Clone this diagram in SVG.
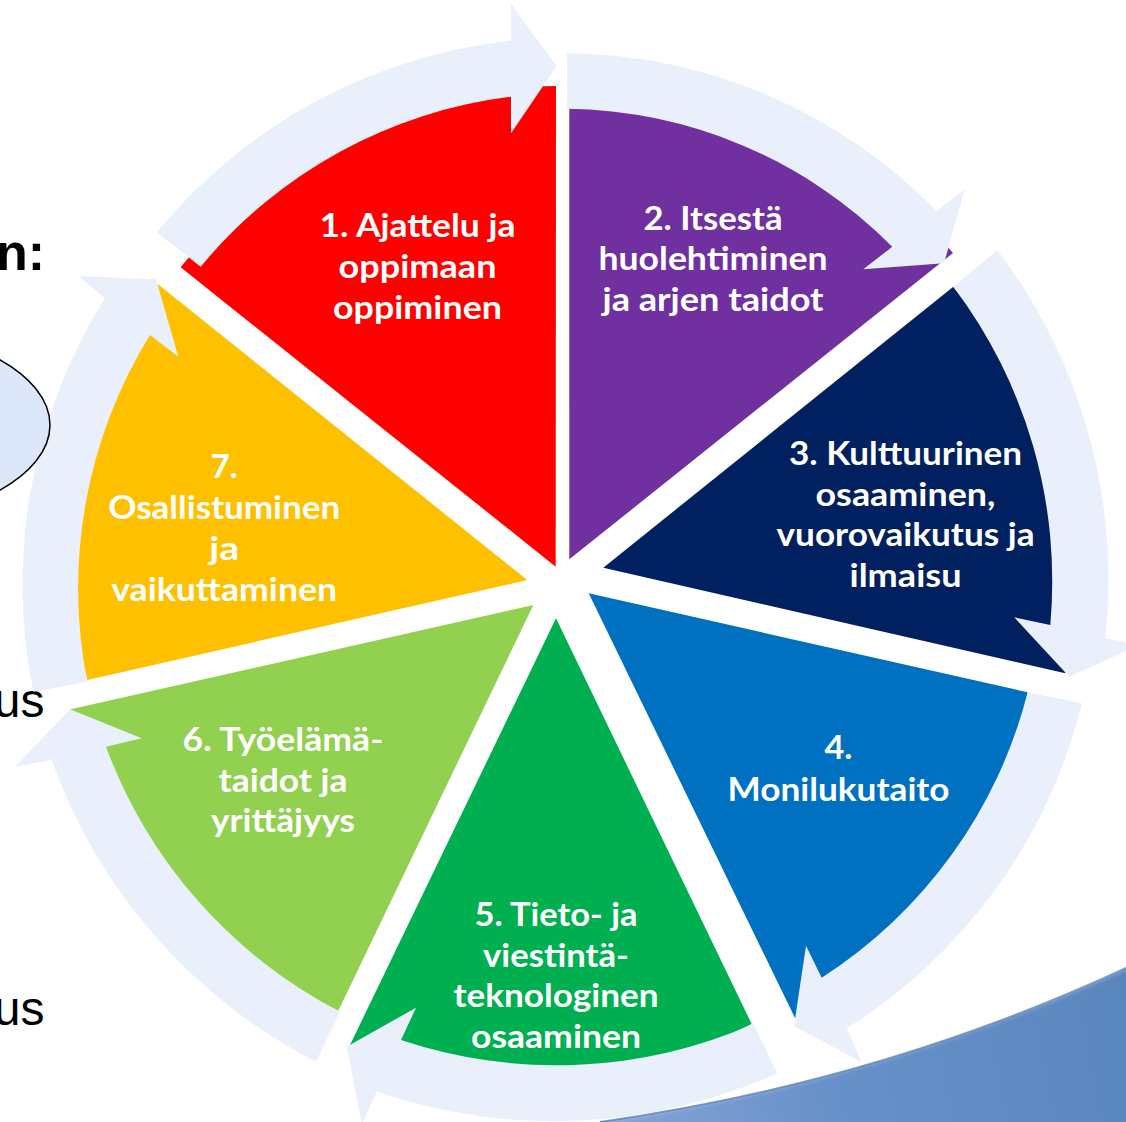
<svg xmlns="http://www.w3.org/2000/svg" width="1126" height="1122" viewBox="0 0 1126 1122">
  <defs>
    <linearGradient id="swooshGrad" x1="600" y1="1100" x2="1126" y2="1000" gradientUnits="userSpaceOnUse">
      <stop offset="0" stop-color="#86A4D6"/>
      <stop offset="0.45" stop-color="#6690C8"/>
      <stop offset="1" stop-color="#5A86BE"/>
    </linearGradient>
    <filter id="glow" x="-10%" y="-50%" width="120%" height="200%">
      <feGaussianBlur stdDeviation="3"/>
    </filter>
  </defs>
  <style>
    .band { fill: #E9F0FC; }
    .lbl { fill: #FFFFFF; font-family: Lato, "Open Sans", "DejaVu Sans", sans-serif; font-weight: 700; font-size: 33px; text-anchor: middle; }
    .side { fill: #000000; font-family: "Liberation Sans", Arial, sans-serif; text-anchor: end; }
  </style>
  <rect x="0" y="0" width="1126" height="1122" fill="#FFFFFF"/>

  <g id="background">
    <path d="M600,1122 Q880,1082 1126,968 L1126,1122 Z" fill="url(#swooshGrad)"/>
    <path d="M600,1122 Q880,1082 1126,968" fill="none" stroke="#4A72B2" stroke-width="2"/>
    <path d="M600,1116 Q880,1076 1126,962" fill="none" stroke="#FFFFFF" stroke-width="7" filter="url(#glow)"/>
    <text class="side" x="45" y="270" font-size="52" font-weight="700">n:</text>
    <text class="side" x="44.5" y="717" font-size="48">us</text>
    <text class="side" x="44.5" y="1025" font-size="48">us</text>
  </g>

  <g id="node-1">
    <path d="M555.7,566.7 L180.7,267.3 A480,480 0 0 1 556,86 Z" fill="#FF0000"/>
    <text class="lbl" x="417.5" y="237.3" textLength="196" lengthAdjust="spacingAndGlyphs">1. Ajattelu ja</text>
    <text class="lbl" x="417.5" y="278" textLength="158" lengthAdjust="spacingAndGlyphs">oppimaan</text>
    <text class="lbl" x="417.5" y="319" textLength="169" lengthAdjust="spacingAndGlyphs">oppiminen</text>
  </g>
  <g id="node-2">
    <path d="M569.3,559.3 L569.3,80 A480,480 0 0 1 953,253 Z" fill="#7030A0"/>
    <text class="lbl" x="713" y="229.6" textLength="139" lengthAdjust="spacingAndGlyphs">2. Itsestä</text>
    <text class="lbl" x="713" y="270" textLength="229" lengthAdjust="spacingAndGlyphs">huolehtiminen</text>
    <text class="lbl" x="713" y="311" textLength="221" lengthAdjust="spacingAndGlyphs">ja arjen taidot</text>
  </g>
  <g id="node-3">
    <path d="M603.3,567.7 L953.3,286.7 A480,480 0 0 1 1065.3,673.3 Z" fill="#002060"/>
    <text class="lbl" x="905.5" y="465" textLength="233" lengthAdjust="spacingAndGlyphs">3. Kulttuurinen</text>
    <text class="lbl" x="905.5" y="505.5" textLength="180" lengthAdjust="spacingAndGlyphs">osaaminen,</text>
    <text class="lbl" x="905.5" y="546" textLength="258" lengthAdjust="spacingAndGlyphs">vuorovaikutus ja</text>
    <text class="lbl" x="905.5" y="587" textLength="112" lengthAdjust="spacingAndGlyphs">ilmaisu</text>
  </g>
  <g id="node-4">
    <path d="M588.7,593.3 L1027.7,692.3 A480,480 0 0 1 795,1018 Z" fill="#0070C0"/>
    <text class="lbl" x="838.5" y="759.3" textLength="28" lengthAdjust="spacingAndGlyphs">4.</text>
    <text class="lbl" x="838.5" y="800.6" textLength="222" lengthAdjust="spacingAndGlyphs">Monilukutaito</text>
  </g>
  <g id="node-5">
    <path d="M556,618.3 L751.7,1024 A480,480 0 0 1 350,1045 Z" fill="#00B050"/>
    <text class="lbl" x="556" y="925.7" textLength="163" lengthAdjust="spacingAndGlyphs">5. Tieto- ja</text>
    <text class="lbl" x="556" y="966.5" textLength="146" lengthAdjust="spacingAndGlyphs">viestintä-</text>
    <text class="lbl" x="556" y="1007" textLength="205" lengthAdjust="spacingAndGlyphs">teknologinen</text>
    <text class="lbl" x="556" y="1047.5" textLength="170" lengthAdjust="spacingAndGlyphs">osaaminen</text>
  </g>
  <g id="node-6">
    <path d="M533.3,605 L338.3,1010.7 A480,480 0 0 1 70.7,709.3 Z" fill="#92D050"/>
    <text class="lbl" x="283" y="751" textLength="201" lengthAdjust="spacingAndGlyphs">6. Työelämä-</text>
    <text class="lbl" x="283" y="791.7" textLength="129" lengthAdjust="spacingAndGlyphs">taidot ja</text>
    <text class="lbl" x="283" y="832.3" textLength="144" lengthAdjust="spacingAndGlyphs">yrittäjyys</text>
  </g>
  <g id="node-7">
    <path d="M527.3,580 L87.3,680 A480,480 0 0 1 156.7,283.3 Z" fill="#FFC000"/>
    <text class="lbl" x="224.2" y="477.6" textLength="27" lengthAdjust="spacingAndGlyphs">7.</text>
    <text class="lbl" x="224.2" y="518.6" textLength="232" lengthAdjust="spacingAndGlyphs">Osallistuminen</text>
    <text class="lbl" x="224.2" y="559.6" textLength="30" lengthAdjust="spacingAndGlyphs">ja</text>
    <text class="lbl" x="224.2" y="600.5" textLength="226" lengthAdjust="spacingAndGlyphs">vaikuttaminen</text>
  </g>

  <g id="connectors">
    <path class="band" d="M156.7,232.3 A534,534 0 0 1 511,40.7 L511,4 L556.7,66 L511,133.3 L511,96.7 A478,478 0 0 0 200.7,266.7 Z"/>
    <path class="band" d="M567,53.3 A522,522 0 0 1 936.7,211 L965,189 L944,263.3 L863.3,269.3 L892.3,246.7 A466,466 0 0 0 567,108.7 Z"/>
    <path class="band" d="M997.3,250 A545,545 0 0 1 1105.3,638.3 L1140,645 L1069.3,676.7 L1014.3,617.3 L1050.3,625 A488,488 0 0 0 953.3,286.7 Z"/>
    <path class="band" d="M1082,703.3 A535.5,535.5 0 0 1 846.7,1028.3 L861.7,1062.3 L794,1026 L806,945.7 L821.7,977.7 A480,480 0 0 0 1027.7,692.3 Z"/>
    <path class="band" d="M777.3,1073.3 A546,546 0 0 1 376.7,1091.7 L362,1124 L346.7,1046.7 L416,1007.7 L401,1040 A490,490 0 0 0 753.3,1024 Z"/>
    <path class="band" d="M316,1061.7 A544,544 0 0 1 51.7,760 L15,766.7 L70,709.3 L141.7,738.3 L106,746.7 A488.5,488.5 0 0 0 340,1011.7 Z"/>
    <path class="band" d="M33.3,691.7 A538,538 0 0 1 105,298.3 L78.3,276 L156,279.3 L178.3,356.7 L150,335 A482,482 0 0 0 87.3,681.7 Z"/>
  </g>

  <g id="side-ellipse">
    <ellipse cx="-157" cy="425" rx="207" ry="100" fill="#DCE7FA" stroke="#000000" stroke-width="1.5"/>
  </g>
</svg>
